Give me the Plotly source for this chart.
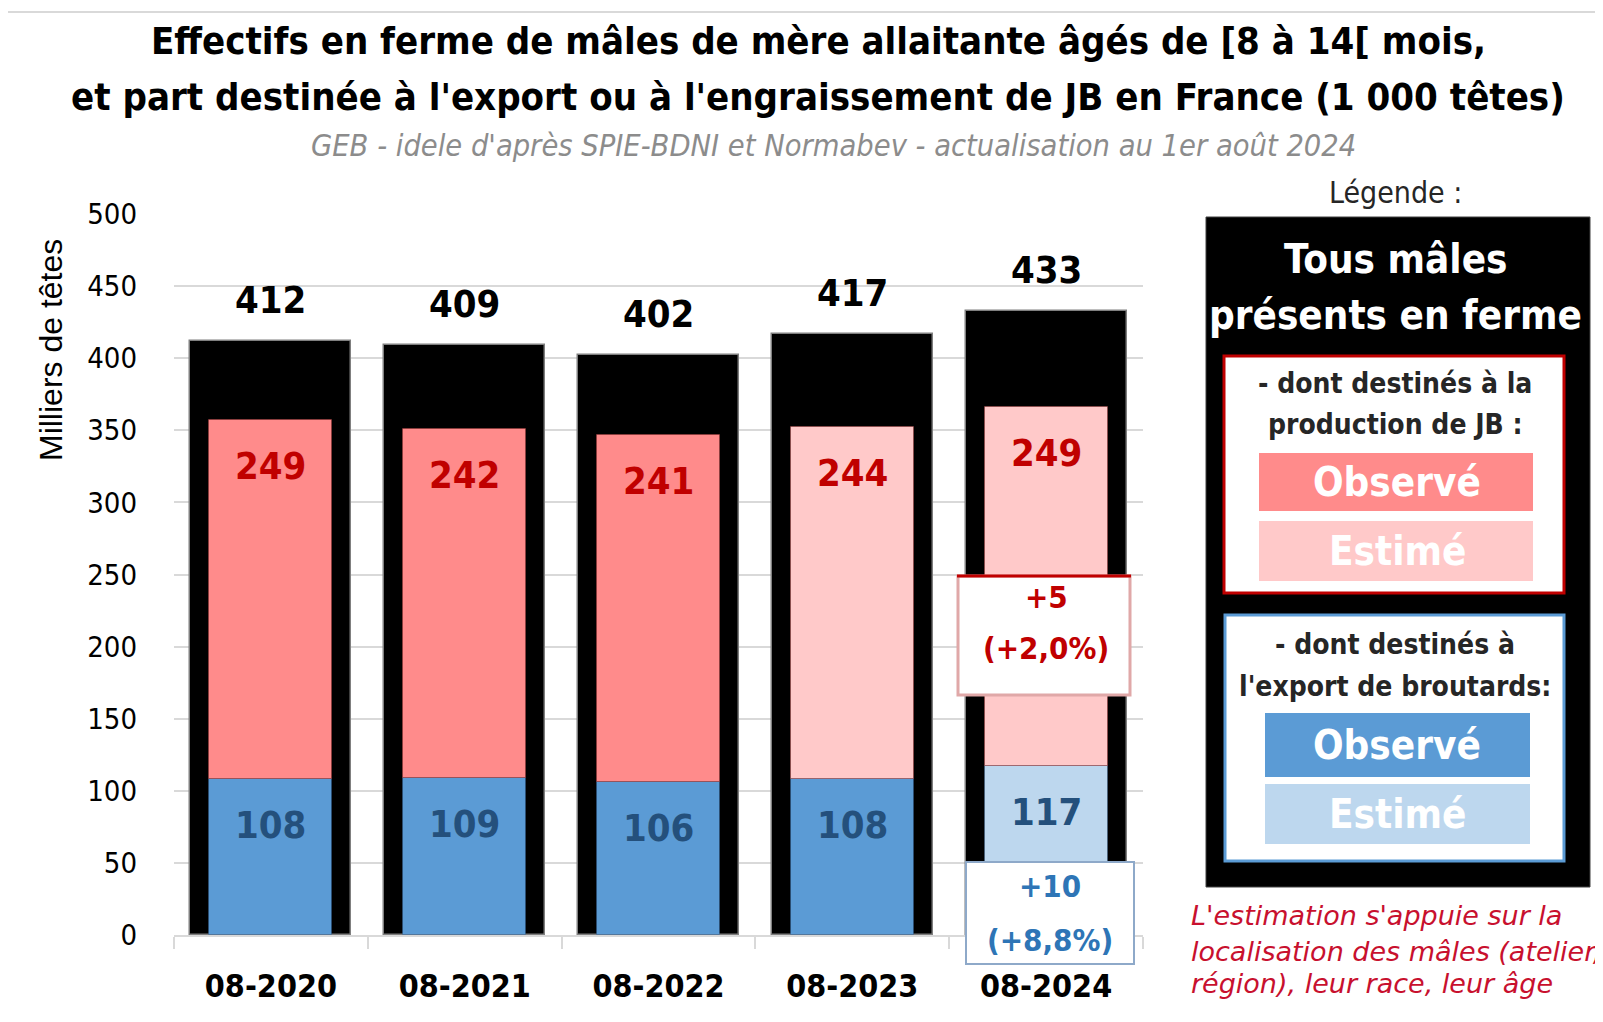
import plotly.graph_objects as go

# ---------------- data ----------------
categories = ["08-2020", "08-2021", "08-2022", "08-2023", "08-2024"]
total_males = [412, 409, 402, 417, 433]
jb_production = [249, 242, 241, 244, 249]
export_broutards = [108, 109, 106, 108, 117]
jb_estimated = [False, False, False, True, True]
export_estimated = [False, False, False, False, True]
y_ticks = [0, 50, 100, 150, 200, 250, 300, 350, 400, 450, 500]

jb_delta_lines = ["+5", "(+2,0%)"]
export_delta_lines = ["+10", "(+8,8%)"]
jb_delta_y = 208
export_delta_y = 15

# ---------------- style / geometry ----------------
OFF = 8                      # page body margin
W, H = 1595, 1014
L, R, T, B = 166, 460, 206, 87
PW, PH = W - L - R, H - T - B
NARROW = "DejaVu Sans Condensed, Liberation Sans Narrow, Arial Narrow, sans-serif"
RED_OBS, RED_EST = "#FF8B8B", "#FFC9C9"
BLUE_OBS, BLUE_EST = "#5B9BD5", "#BDD7EE"


def px(x):
    """page pixel x -> paper coordinate"""
    return (x - OFF - L) / PW


def py(y):
    """page pixel y -> paper coordinate"""
    return (H - B - (y - OFF)) / PH


def ptext(x, y, text, size, color, family=NARROW, xanchor="center", **kw):
    return dict(x=px(x), y=py(y), xref="paper", yref="paper", showarrow=False, text=text,
                xanchor=xanchor, yanchor="middle", font=dict(family=family, size=size, color=color), **kw)


jb_colors = [RED_EST if e else RED_OBS for e in jb_estimated]
ex_colors = [BLUE_EST if e else BLUE_OBS for e in export_estimated]

fig = go.Figure()
fig.add_bar(x=categories, y=total_males, width=0.83,
            marker=dict(color="black", line=dict(color="#7F7F7F", width=1.5)), name="Tous mâles")
fig.add_bar(x=categories, y=export_broutards, width=0.635,
            marker=dict(color=ex_colors, line=dict(color="rgba(40,80,130,0.35)", width=1)), name="Export")
fig.add_bar(x=categories, y=jb_production, base=export_broutards, width=0.635,
            marker=dict(color=jb_colors, line=dict(color="rgba(150,50,50,0.45)", width=1)), name="JB")

ann = []
for c, t, j, e in zip(categories, total_males, jb_production, export_broutards):
    ann.append(dict(x=c, y=t, xref="x", yref="y", text=f"<b>{t}</b>", showarrow=False, yshift=41,
                    xanchor="center", yanchor="middle", font=dict(family=NARROW, size=38, color="black")))
    ann.append(dict(x=c, y=e + j, xref="x", yref="y", text=f"<b>{j}</b>", showarrow=False, yshift=-46,
                    xanchor="center", yanchor="middle", font=dict(family=NARROW, size=38, color="#C00000")))
    ann.append(dict(x=c, y=e, xref="x", yref="y", text=f"<b>{e}</b>", showarrow=False, yshift=-46,
                    xanchor="center", yanchor="middle", font=dict(family=NARROW, size=38, color="#24507C")))

# delta boxes: box drawn as shapes below, text lines here
ann.append(dict(x=categories[-1], y=jb_delta_y, xref="x", yref="y", text=f"<b>{jb_delta_lines[0]}</b>",
                showarrow=False, yshift=38, xanchor="center", yanchor="middle",
                font=dict(family=NARROW, size=31, color="#C00000")))
ann.append(dict(x=categories[-1], y=jb_delta_y, xref="x", yref="y", text=f"<b>{jb_delta_lines[1]}</b>",
                showarrow=False, yshift=-13, xanchor="center", yanchor="middle",
                font=dict(family=NARROW, size=31, color="#C00000")))
ann.append(dict(x=categories[-1], y=export_delta_y, xref="x", yref="y", text=" ", showarrow=False,
                xanchor="center", yanchor="middle", xshift=4, width=166, height=100, bgcolor="white",
                bordercolor="#8EA9C9", borderwidth=2, borderpad=0, font=dict(size=10)))
ann.append(dict(x=categories[-1], y=export_delta_y, xref="x", yref="y", text=f"<b>{export_delta_lines[0]}</b>",
                showarrow=False, yshift=27, xshift=4, xanchor="center", yanchor="middle",
                font=dict(family=NARROW, size=31, color="#2E75B6")))
ann.append(dict(x=categories[-1], y=export_delta_y, xref="x", yref="y", text=f"<b>{export_delta_lines[1]}</b>",
                showarrow=False, yshift=-27, xshift=4, xanchor="center", yanchor="middle",
                font=dict(family=NARROW, size=31, color="#2E75B6")))

# titles
ann.append(ptext(818, 41, "<b>Effectifs en ferme de mâles de mère allaitante âgés de [8 à 14[ mois,</b>", 38, "black"))
ann.append(ptext(818, 97, "<b>et part destinée à l'export ou à l'engraissement de JB en France (1 000 têtes)</b>", 38, "black"))
ann.append(ptext(833, 145, "<i>GEB - idele d'après SPIE-BDNI et Normabev - actualisation au 1er août 2024</i>", 30.5, "#8C8C8C"))
ann.append(ptext(51, 350, "Milliers de têtes", 32, "black", family="Liberation Sans, Arial, sans-serif", textangle=-90))

# legend
ann.append(ptext(1395, 192, "Légende :", 30, "#262626"))
for txt, yy in [("Tous mâles", 259), ("présents en ferme", 315)]:
    ann.append(ptext(1395, yy, f"<b>{txt}</b>", 40, "white"))
for txt, yy in [("- dont destinés à la", 383), ("production de JB :", 424),
                ("- dont destinés à", 644), ("l'export de broutards:", 686)]:
    ann.append(ptext(1395, yy, f"<b>{txt}</b>", 28, "#262626"))
for txt, yy in [("Observé", 482), ("Estimé", 551), ("Observé", 745), ("Estimé", 814)]:
    ann.append(ptext(1397, yy, f"<b>{txt}</b>", 40, "white"))
for txt, yy in [("L'estimation s'appuie sur la", 915), ("localisation des mâles (atelier,", 951),
                ("région), leur race, leur âge", 983)]:
    ann.append(ptext(1189, yy, f"<i>{txt}</i>", 27, "#C8102E", family="DejaVu Sans, sans-serif", xanchor="left"))


def prect(x0, y0, x1, y1, fill, line_color=None, lw=0, layer="above"):
    return dict(type="rect", xref="paper", yref="paper", x0=px(x0), x1=px(x1), y0=py(y0), y1=py(y1),
                line=dict(color=line_color or fill, width=lw), fillcolor=fill, layer=layer)


shapes = [
    prect(5, 12, 1650, 1070, "rgba(0,0,0,0)", "#D9D9D9", 2, layer="below"),
    # +5 box over the 2024 bar
    prect(958, 576, 1130, 695, "white", "#E0A8A8", 3),
    dict(type="line", xref="paper", yref="paper", x0=px(957), x1=px(1131), y0=py(576), y1=py(576),
         line=dict(color="#C00000", width=3), layer="above"),
    # legend
    prect(1206, 217, 1590, 887, "black", "#404040", 1),
    prect(1224, 356, 1564, 593, "white", "#C00000", 3),
    prect(1259, 453, 1533, 511, RED_OBS),
    prect(1259, 521, 1533, 581, RED_EST),
    prect(1225, 615, 1564, 861, "white", BLUE_OBS, 3),
    prect(1265, 713, 1530, 777, BLUE_OBS),
    prect(1265, 784, 1530, 844, BLUE_EST),
]

fig.update_layout(
    width=W, height=H, margin=dict(l=L, r=R, t=T, b=B), barmode="overlay", bargap=0,
    plot_bgcolor="white", paper_bgcolor="white", showlegend=False,
    annotations=ann, shapes=shapes,
    xaxis=dict(type="category", showgrid=False, showline=True, linecolor="#D9D9D9", linewidth=2,
               ticks="outside", tickson="boundaries", ticklen=12, tickcolor="#D9D9D9", tickwidth=2,
               ticklabelstandoff=22,
               tickfont=dict(family=NARROW, size=32, color="black", weight="bold")),
    yaxis=dict(range=[0, 500], tickvals=y_ticks, showgrid=True, gridcolor="#D9D9D9", gridwidth=2,
               zeroline=False, ticks="", ticklabelstandoff=36,
               tickfont=dict(family=NARROW, size=29, color="black")),
)
fig.write_html("out.html")
